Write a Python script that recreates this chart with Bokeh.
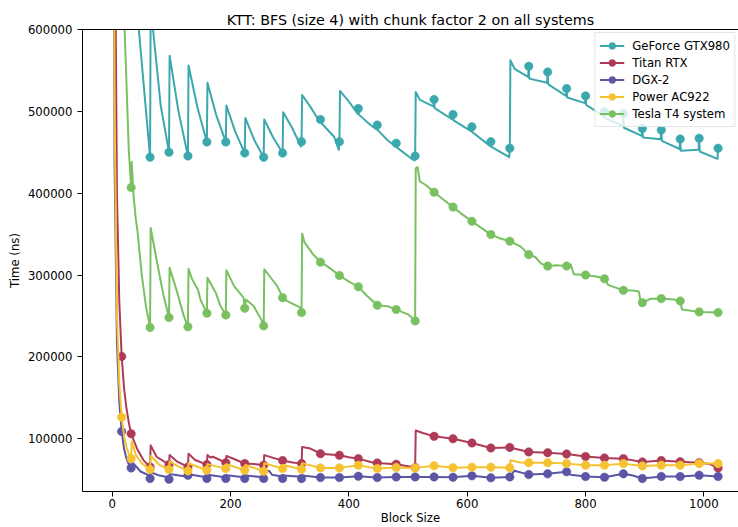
from bokeh.plotting import figure
from bokeh.models import Range1d, FixedTicker, LinearAxis, Legend, LegendItem, BasicTickFormatter
from bokeh.embed import file_html
from bokeh.resources import INLINE

title_text = "KTT: BFS (size 4) with chunk factor 2 on all systems"
x_label = "Block Size"
y_label = "Time (ns)"
x_ticks = [0, 200, 400, 600, 800, 1000]
y_ticks = [100000, 200000, 300000, 400000, 500000, 600000]

series_names = ["GeForce GTX980", "Titan RTX", "DGX-2", "Power AC922", "Tesla T4 system"]
series_colors = ["#3ba8ae", "#ad3a57", "#5a55a5", "#f6c232", "#79c160"]

# block sizes that carry a marker
marker_x = [16, 32, 64, 96, 128, 160, 192, 224, 256, 288, 320, 352, 384, 416, 448, 480, 512,
            544, 576, 608, 640, 672, 704, 736, 768, 800, 832, 864, 896, 928, 960, 992, 1024]

gtx_x = [1, 2, 4, 8, 16, 32, 33, 45, 64, 65, 69, 82, 96, 97, 112, 128, 129, 144, 160,
         161, 176, 192, 193, 208, 224, 225, 240, 256, 257, 272, 288, 289, 304, 319, 320,
         321, 335, 351, 352, 353, 375, 383, 384,
         385, 400, 415, 416, 417, 437, 447, 448, 449, 465, 479, 480, 481, 506, 511, 512,
         513, 520, 543, 544, 545, 575, 576, 577, 607, 608, 609, 639, 640, 641, 671, 672,
         673, 680, 703, 704, 705, 735, 736, 737, 767, 768, 769, 799, 800, 801, 831, 832, 833,
         863, 864, 865, 895, 896, 897, 927, 928, 929, 959, 960, 961, 991, 992, 993, 1023, 1024]
gtx_y = [20000000, 10000000, 5000000, 2600000, 1300000, 660000, 700000, 600000, 444000,
         635000, 600000, 507000, 450000, 568000, 500000, 445500, 556000, 505000, 462600,
         535000, 495000, 462600, 507000, 475000, 449000, 492000, 465000, 444000,
         490000, 468000, 449000, 499000, 480000, 457000, 463000,
         520000, 505500, 487000, 490000, 486000, 469000, 453000, 463000,
         525000, 512000, 497000, 503500, 496000, 483000, 478000, 483200, 477000, 465000,
         457000, 461000, 456000, 442000, 440000, 445500,
         523700, 514000, 506000, 514500, 504000, 490000, 496200, 489000, 475500, 481200,
         474500, 457500, 463000, 456500, 444000, 454900,
         562300, 552000, 542000, 555000, 540000, 535000, 548100, 533000, 519000, 527800,
         517000, 510000, 518900, 508000, 494000, 499400, 492000, 482000, 497400, 480000,
         470000, 479200, 468000, 466000, 477100, 464000, 454000, 466200, 452000, 453000,
         467000, 451000, 442000, 454900]

titan_x = [1, 2, 4, 8, 12, 16, 20, 24, 28, 32, 42, 53, 64, 65, 75, 96, 97, 110, 128,
           129, 140, 160, 161, 166, 170, 192, 193, 210, 224, 240, 256, 257, 275, 288, 305, 320,
           321, 335, 352, 384, 400, 416, 440, 448, 480, 500, 512,
           513, 525, 544, 576, 608, 640, 672, 704, 736, 768, 800, 832, 864, 896, 928, 960,
           992, 1010, 1024]
titan_y = [3200000, 1600000, 800000, 400000, 267000, 200600, 162000, 138000, 120000, 106100,
           87900, 73600, 65600, 91900, 78000, 68400, 80000, 72000, 65600,
           81800, 74000, 68400, 80000, 77000, 78000, 70800, 79000, 74000, 69600, 69000, 67600,
           80000, 76000, 73300, 71000, 69600,
           89900, 88000, 81800, 79700, 77500, 75700, 71000, 70400, 68800, 66500, 64800,
           110100, 107000, 102900, 100000, 94800, 88700, 89400, 83900, 83000, 81400, 78200,
           76500, 75700, 71700, 73300, 72000, 70800, 69000, 64400]

dgx_x = [1, 2, 4, 8, 12, 16, 20, 24, 28, 32, 33, 48, 63, 64, 65, 80, 95, 96, 97, 127, 128,
         129, 159, 160, 161, 191, 192, 193, 223, 224, 225, 255, 256, 257, 265, 270, 287, 288,
         289, 319, 320, 321, 352, 384, 416, 448, 480, 512, 544, 576, 608, 640, 672, 680, 704,
         736, 768, 775, 800, 832, 864, 880, 896, 928, 960, 992, 1024]
dgx_y = [1750000, 870000, 435000, 218000, 145000, 108900, 88000, 76000, 69000, 64400, 72000,
         60000, 55000, 51400, 59000, 55000, 53000, 50600, 57000, 53500, 55300,
         56500, 53000, 51400, 56000, 53000, 51400, 55500, 53000, 51400, 55000, 53000, 51400,
         58000, 61000, 56000, 54000, 51400, 55000, 53500, 51400, 55000, 52600, 52600, 54200,
         52600, 53400, 53400, 53400, 52900, 54700, 52200, 53400, 61000, 56200,
         57100, 59600, 56000, 53800, 52900, 57100, 55000, 51400, 53800, 53800, 55400, 53800]

power_x = [1, 2, 4, 8, 12, 16, 20, 24, 28, 32, 33, 40, 50, 64, 65, 80, 96, 97, 112, 128,
           129, 160, 161, 192, 193, 224, 225, 256, 257, 288, 289, 320, 321, 352, 384, 416,
           448, 480, 512, 544, 576, 608, 640, 672, 673, 690, 704, 736, 768, 800, 832, 864,
           896, 928, 960, 992, 1024]
power_y = [2000000, 1000000, 500000, 252000, 168000, 126400, 104000, 90000, 81000, 75700,
           97000, 80000, 70000, 62300, 79000, 68000, 62300, 72400, 66000, 60700,
           70000, 61500, 69000, 63500, 69000, 61500, 68000, 60300, 70000, 63500, 68000, 62700,
           70000, 64400, 64400, 67600, 63500, 64800, 64400, 67000, 64600, 65200, 65300, 64600,
           73700, 71000, 70800, 70800, 69600, 67600, 67600, 69600, 66800, 67600, 67600,
           69600, 69600]

tesla_x = [1, 2, 4, 8, 16, 21, 28, 32, 33, 36, 40, 43, 50, 57, 64,
           65, 76, 87, 96, 97, 110, 121, 128, 129, 135, 141, 145, 149, 160,
           161, 175, 183, 192, 193, 206, 222, 224, 226, 239, 253, 256,
           257, 268, 279, 287, 288, 289, 301, 318, 320,
           321, 325, 340, 352, 365, 384, 400, 416, 430, 448, 465, 480, 500, 512,
           513, 516, 520, 530, 544, 560, 576, 590, 608, 625, 640, 655, 672, 690, 704, 715,
           725, 736, 750, 768, 775, 780, 800, 820, 832, 838, 864, 880, 890, 893, 896, 910,
           928, 950, 960, 963, 992, 1024]
tesla_y = [12600000, 6300000, 3150000, 1580000, 790000, 600000, 453000, 407000, 438000,
           398000, 368000, 352000, 300000, 262000, 236000,
           357500, 315000, 274000, 248000, 309000, 278500, 250000, 236700,
           307700, 295000, 287000, 282000, 270300, 253300,
           296700, 278500, 262200, 251200, 306000, 286500, 272400, 259400, 270000, 262200,
           244000, 237900,
           306800, 296700, 286500, 274400, 272400, 271000, 266300, 260200, 254200,
           350600, 340000, 325000, 315700, 310000, 299500, 292000, 285800, 275000, 263000,
           262000, 257800, 252000, 244000,
           430500, 432000, 414300, 410000, 401300, 392000, 383000, 375000, 365600, 357000,
           349400, 345000, 341300, 335000, 325000, 322000, 314000, 310900, 312000, 311000,
           313000, 301000, 300000, 298000, 295500, 288000, 281300, 281000, 280000, 268000,
           266300, 271000, 271200, 270000, 268300, 258000, 255000, 254200]

all_x = [gtx_x, titan_x, dgx_x, power_x, tesla_x]
all_y = [gtx_y, titan_y, dgx_y, power_y, tesla_y]

FONT = "DejaVu Sans"

p = figure(width=738, height=527, output_backend="svg", toolbar_location=None,
           x_range=Range1d(-50.2, 1058.5), y_range=Range1d(35540, 600000),
           min_border_left=82, min_border_right=0, min_border_top=29, min_border_bottom=30,
           title=title_text)
p.outline_line_color = None
p.grid.visible = False
p.background_fill_color = "white"
p.border_fill_color = "white"

p.title.text_font = FONT
p.title.text_font_size = "14.3px"
p.title.text_font_style = "normal"
p.title.text_color = "black"
p.title.align = "center"
p.title.offset = 5
p.title.standoff = 3

for ax in (p.xaxis[0], p.yaxis[0]):
    ax.axis_line_color = "black"
    ax.axis_line_width = 1
    ax.major_tick_line_color = "black"
    ax.major_tick_line_width = 1
    ax.major_tick_out = 5
    ax.major_tick_in = 0
    ax.minor_tick_line_color = None
    ax.major_label_text_font = FONT
    ax.major_label_text_font_size = "11.7px"
    ax.major_label_text_color = "black"
    ax.axis_label_text_font = FONT
    ax.axis_label_text_font_size = "11.7px"
    ax.axis_label_text_font_style = "normal"
    ax.axis_label_text_color = "black"

p.xaxis.ticker = FixedTicker(ticks=x_ticks)
p.yaxis.ticker = FixedTicker(ticks=y_ticks)
p.yaxis.formatter = BasicTickFormatter(use_scientific=False)
p.xaxis.axis_label = x_label
p.yaxis.axis_label = y_label
p.xaxis.major_label_standoff = 2
p.xaxis.axis_label_standoff = 0
p.yaxis.major_label_standoff = 5
p.yaxis.axis_label_standoff = 3

top = LinearAxis(ticker=FixedTicker(ticks=[]), axis_line_color="black", axis_line_width=1,
                 major_tick_line_color=None, minor_tick_line_color=None,
                 major_label_text_font_size="0px", major_tick_out=0, major_tick_in=0,
                 major_label_standoff=0)
p.add_layout(top, "above")

items = []
for name, color, xs, ys in zip(series_names, series_colors, all_x, all_y):
    lr = p.line(xs, ys, line_color=color, line_width=2, line_join="round")
    lookup = dict(zip(xs, ys))
    my = [lookup[m] for m in marker_x]
    sr = p.scatter(marker_x, my, size=8.5, marker="circle", fill_color=color,
                   line_color=color, line_width=0.5)
    items.append(LegendItem(label=name, renderers=[lr, sr]))

legend = Legend(items=items, location="top_right")
legend.label_text_font = FONT
legend.label_text_font_size = "11.7px"
legend.label_text_color = "black"
legend.glyph_width = 25
legend.glyph_height = 17
legend.label_height = 17
legend.spacing = 0
legend.padding = 4
legend.margin = 3
legend.label_standoff = 8
legend.border_line_color = "#cccccc"
legend.border_line_width = 1
legend.background_fill_color = "white"
legend.background_fill_alpha = 0.8
p.add_layout(legend)

open("out.html", "w").write(file_html(p, INLINE))
